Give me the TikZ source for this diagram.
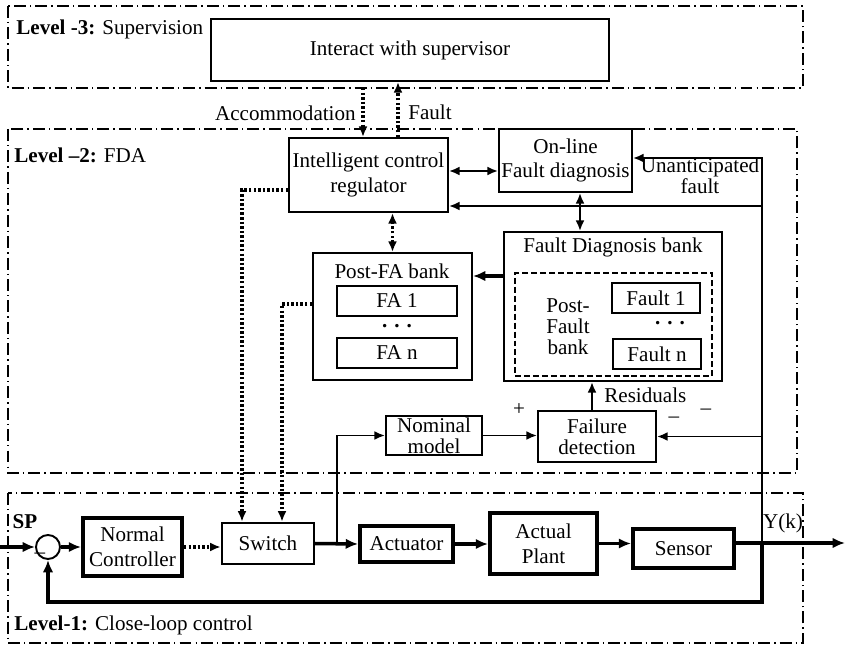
\documentclass[tikz,border=0pt]{standalone}
\usepackage{fontspec}
\setmainfont{Liberation Serif}
\usetikzlibrary{arrows.meta}
\tikzset{
  box/.style={draw, line width=1.1pt, inner sep=0pt, align=center},
  heavybox/.style={draw, line width=2.2pt, inner sep=0pt, align=center},
  tight/.style={font=\fontsize{12}{12}\selectfont},
  level/.style={draw, line width=1.1pt, dash pattern=on 6.8pt off 2.3pt on 0.8pt off 2.3pt},
  sig/.style={line width=1.1pt, -{Latex[length=6pt,width=5pt]}},
  twoway/.style={line width=1.1pt, {Latex[length=6pt,width=5pt]}-{Latex[length=6pt,width=5pt]}},
  bus/.style={line width=2pt, -{Latex[length=7pt,width=6pt]}},
  dots/.style={line width=2pt, dash pattern=on 1.4pt off 1.2pt, -{Latex[length=6pt,width=5pt]}},
  dotstwo/.style={line width=2pt, dash pattern=on 1.4pt off 1.2pt, {Latex[length=6pt,width=5pt]}-{Latex[length=6pt,width=5pt]}},
  tag/.style={anchor=west, inner sep=0pt},
  sign/.style={inner sep=0pt}
}
% block given by its corners: name, style, x1, y1, x2, y2, text
\newcommand{\blk}[7]{\node[#2, minimum width={(#5-#3)*0.02cm}, minimum height={(#6-#4)*0.02cm}] (#1) at ({(#3+#5)/2},{(#4+#6)/2}) {#7};}
\newcommand{\dotrow}{\textbf{.\,\,.\,\,.}}

\begin{document}
\begin{tikzpicture}[x=0.02cm, y=-0.02cm, font=\fontsize{12}{14}\selectfont]
        \useasboundingbox (0,0) rectangle (845,645);
        % level frames
        \draw[level] (8,6) rectangle (803,88);
        \draw[level] (8,129) rectangle (797,473);
        \draw[level] (8,493) rectangle (803,643);
        \node[tag] (lv3) at (16,29) {\textbf{Level -3:} Supervision};
        \node[tag] (lv2) at (14,155) {\textbf{Level --2:} FDA};
        \node[tag] (lv1) at (14,625) {\textbf{Level-1:} Close-loop control};
        % level 3
        \blk{sup}{box}{211}{19}{609}{81}{Interact with supervisor}
        % level 2
        \blk{icr}{box}{289}{138}{448}{212}{Intelligent control\\regulator}
        \blk{ofd}{box}{499}{129}{632}{192}{On-line\\Fault diagnosis}
        \blk{fdb}{box}{504}{232}{722}{381}{}
        \node (fdbT) at (613,247) {Fault Diagnosis bank};
        \blk{pfb}{box, dash pattern=on 3.4pt off 1.7pt}{515}{273}{712}{376}{}
        \node[tight, align=center] (pfbT) at (568,327) {Post-\\Fault\\bank};
        \blk{f1}{box}{612}{283}{700}{313}{Fault 1}
        \node[sign] (fdots) at (670,323) {\dotrow};
        \blk{fn}{box}{613}{339}{701}{369}{Fault n}
        \blk{pfa}{box}{313}{253}{472}{380}{}
        \node (pfaT) at (392,271) {Post-FA bank};
        \blk{fa1}{box}{337}{286}{457}{316}{FA 1}
        \node[sign] (adots) at (397,326) {\dotrow};
        \blk{fan}{box}{337}{338}{457}{368}{FA n}
        \blk{nom}{box, tight}{386}{416}{482}{455}{Nominal\\model}
        \blk{fd}{box, tight}{538}{411}{656}{462}{Failure\\detection}
        % level 1
        \node[draw, circle, line width=1.1pt, minimum size=0.48cm, inner sep=0pt] (sum) at (48,547) {};
        \blk{nc}{heavybox}{83}{518}{182}{576}{Normal\\Controller}
        \blk{sw}{box, line width=1.4pt}{222}{523}{314}{564}{Switch}
        \blk{act}{heavybox}{360}{526}{453}{562}{Actuator}
        \blk{pl}{heavybox}{490}{513}{597}{574}{Actual\\Plant}
        \blk{sen}{heavybox}{633}{529}{734}{568}{Sensor}
        % helper points
        \coordinate (spin) at (0,547);
        \coordinate (yk) at (845,543);
        \coordinate (br) at (337,544);
        \coordinate (uTop) at (762,158);
        \coordinate (uMid) at (762,206);
        \coordinate (fbk) at (762,543);
        \coordinate (uBot) at (762,602);
        \coordinate (acc) at (363,88);
        \coordinate (flt) at (398,100);
        \coordinate (link) at (470,171);
        \coordinate (ofdS) at (580,200);
        \coordinate (c1) at (242,190);
        \coordinate (c2) at (282,304);
        \coordinate (c3) at (490,276);
        \coordinate (res) at (592,411);
        % supervision links
        \draw[dots] (acc) -- (acc |- icr.north);
        \draw[dots] (icr.north -| flt) -- (sup.south -| flt);
        \node[anchor=east, inner sep=0pt] (accL) at (356,113) {Accommodation};
        \node[anchor=west, inner sep=0pt] (fltL) at (408,112) {Fault};
        % FDA links
        \draw[twoway] (icr.east |- link) -- (ofd.west |- link);
        \draw[twoway] (ofd.south -| ofdS) -- (fdb.north -| ofdS);
        \draw[dotstwo] (pfa.north) -- (pfa.north |- icr.south);
        \draw[bus] (fdb.west |- c3) -- (pfa.east |- c3);
        \draw[dots] (icr.west |- c1) -| (sw.north -| c1);
        \draw[dots] (pfa.west |- c2) -| (sw.north -| c2);
        \draw[sig, line width=1.6pt] (res) -- (res |- fdb.south);
        \draw[sig] (nom.east) -- (fd.west |- nom.east);
        \draw[sig] (br) |- (nom.west);
        \node[anchor=west, inner sep=0pt] (resL) at (604,395) {Residuals};
        \node[sign] (plus) at (519,410) {+};
        \node[sign] (mn1) at (674,420) {--};
        \node[sign] (mn2) at (706,412) {--};
        % measured output back to FDA
        \draw[sig] (fbk) -- (uTop) -- (uTop -| ofd.east);
        \draw[sig] (uMid) -- (icr.east |- uMid);
        \draw[sig] (uTop |- fd.east) -- (fd.east);
        \node[tight, align=center] (unaL) at (700,176) {Unanticipated\\fault};
        % control loop
        \draw[bus] (spin) -- (sum.west);
        \draw[bus] (sum.east) -- (nc.west);
        \draw[dots] (nc.east) -- (sw.west |- nc.east);
        \draw[bus] (sw.east) -- (act.west);
        \draw[bus] (act.east) -- (pl.west |- act.east);
        \draw[bus] (pl.east) -- (sen.west |- pl.east);
        \draw[bus] (sen.east |- yk) -- (yk);
        \draw[bus] (fbk) -- (uBot) -| (sum.south);
        \node (spL) at (25,522) {\textbf{SP}};
        \node (ykL) at (783,523) {Y(k)};
        \node[sign] (sgn) at (40,556) {--};
\end{tikzpicture}
\end{document}
